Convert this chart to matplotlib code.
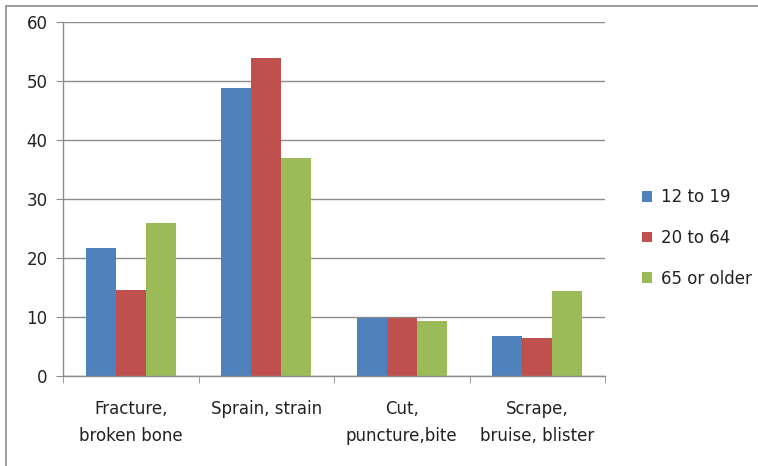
import numpy as np
import matplotlib.pyplot as plt
from matplotlib.patches import Rectangle

categories = ["Fracture,\nbroken bone", "Sprain, strain", "Cut,\npuncture,bite", "Scrape,\nbruise, blister"]
series_names = ["12 to 19", "20 to 64", "65 or older"]
teen = [21.7, 48.8, 9.8, 6.8]
adult = [14.6, 53.9, 9.8, 6.4]
senior = [25.9, 36.9, 9.3, 14.4]
colors = ["#4F81BD", "#C0504D", "#9BBB59"]

plt.rcParams['font.family'] = ['DejaVu Sans']

fig = plt.figure(figsize=(7.58, 4.66), dpi=100)
ax = fig.add_axes([63/758, 1-376/466, (605-63)/758, (376-22)/466])

# outer chart border (cropped at right and bottom)
fig.patches.append(Rectangle((6/758, -0.1), 1.2, 1-6/466+0.1, transform=fig.transFigure,
                             fill=False, edgecolor="#8c8c8c", linewidth=1.2))

x = np.arange(len(categories))
w = 1/4.5
for i, (vals, name) in enumerate(zip([teen, adult, senior], series_names)):
    ax.bar(x + (i-1)*w, vals, width=w, color=colors[i], label=name, zorder=3)

ax.set_xlim(-0.5, 3.5)
ax.set_ylim(0, 60)
ax.set_yticks(range(0, 61, 10))
ax.yaxis.grid(True, color="#8c8c8c", linewidth=1.0, zorder=0)
ax.set_xticks(x)
ax.set_xticklabels(categories, fontsize=12, color="#222222", linespacing=1.7)
ax.set_xticks(np.arange(-0.5, 4, 1), minor=True)
ax.tick_params(axis='x', which='major', length=0, pad=17)
ax.tick_params(axis='x', which='minor', length=5, color="#8c8c8c", direction='out')
ax.tick_params(axis='y', length=5, color="#8c8c8c", labelsize=12, labelcolor="#222222", pad=6)
for s in ["top", "right"]:
    ax.spines[s].set_visible(False)
for s in ["left", "bottom"]:
    ax.spines[s].set_color("#8c8c8c")
    ax.spines[s].set_linewidth(1.0)
    ax.spines[s].set_zorder(4)

leg = fig.legend(loc="center left", bbox_to_anchor=(627/758, 1-238/466), frameon=False,
                 fontsize=12, handlelength=0.6, handleheight=0.6, labelspacing=1.35,
                 handletextpad=0.55)
for t in leg.get_texts():
    t.set_color("#222222")

fig.savefig("out.png", dpi=100)
